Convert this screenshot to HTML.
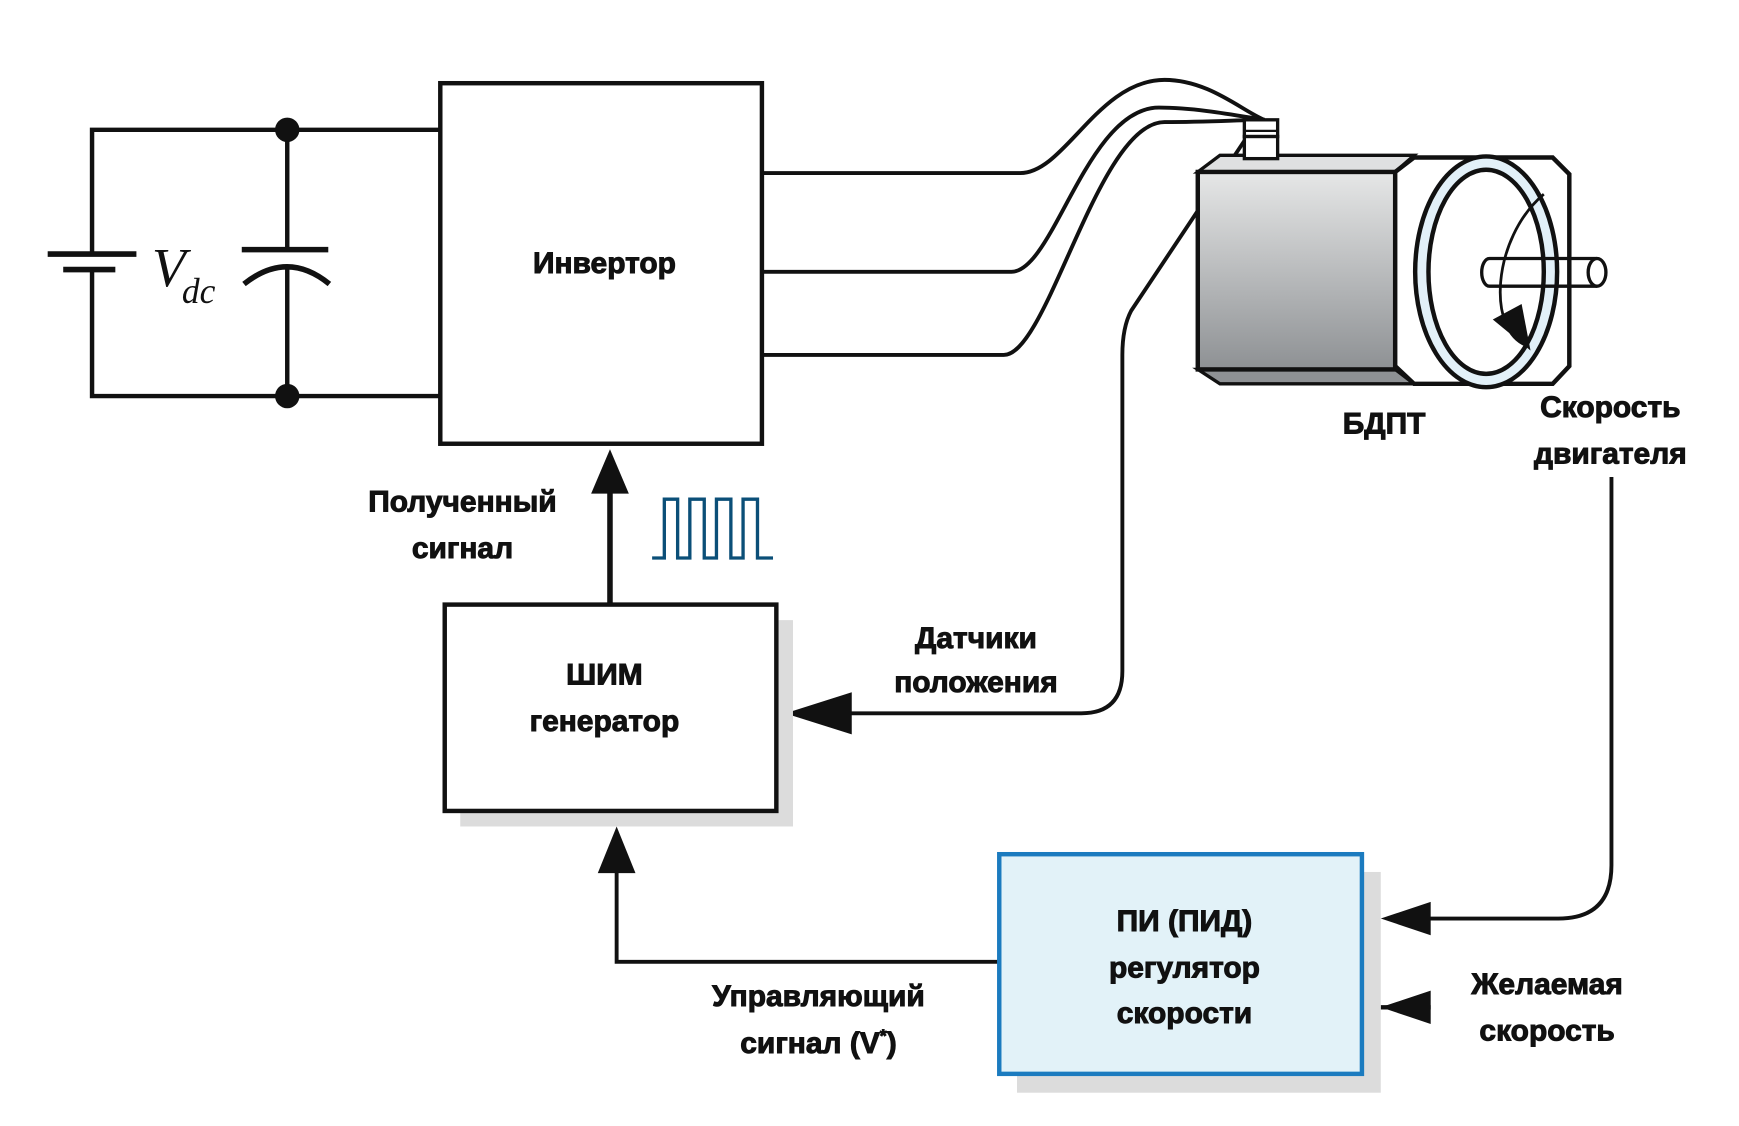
<!DOCTYPE html>
<html><head><meta charset="utf-8"><style>
html,body{margin:0;padding:0;background:#fff;}
svg{display:block;}
text{font-family:"Liberation Sans","DejaVu Sans",sans-serif;font-weight:bold;fill:#111;stroke:#111;stroke-width:0.9;}
</style></head><body>
<svg width="1739" height="1126" viewBox="0 0 1568 1015" preserveAspectRatio="none" xmlns="http://www.w3.org/2000/svg">
<defs>
<linearGradient id="g" x1="0" y1="0" x2="0" y2="1">
<stop offset="0" stop-color="#e6e7e7"/><stop offset="1" stop-color="#8e9194"/>
</linearGradient>
</defs>
<g fill="none" stroke="#111" stroke-width="4">
<polyline points="397,117 83,117 83,228"/>
<polyline points="83,242 83,357 397,357"/>
<line x1="43" y1="229" x2="123" y2="229" stroke-width="5"/>
<line x1="57" y1="243" x2="104" y2="243" stroke-width="5"/>
<line x1="259" y1="117" x2="259" y2="224"/>
<line x1="218" y1="225" x2="296" y2="225" stroke-width="5"/>
<path d="M220,256 Q259,225 297,256" stroke-width="5"/>
<line x1="259" y1="239" x2="259" y2="357"/>
<rect x="397" y="75" width="290" height="325"/>
<path d="M687,156 L920,156 C960,156 990,72 1050,72 C1090,72 1120,100 1140,108" stroke-width="3.5"/>
<path d="M687,245 L912,245 C950,245 980,97 1045,97 C1080,97 1120,105 1140,108" stroke-width="3.5"/>
<path d="M687,320 L905,320 C945,320 990,110 1050,110 C1090,110 1120,108 1140,108" stroke-width="3.5"/>
<path d="M1130,115 L1020,280 Q1012,295 1012,320 L1012,605 Q1012,643 975,643 L765,643" stroke-width="3.5"/>
<path d="M1453,430 L1453,780 Q1453,828 1405,828 L1285,828" stroke-width="3.5"/>
<line x1="1245" y1="908" x2="1290" y2="908" stroke-width="4"/>
<polyline points="901,867 556,867 556,785" stroke-width="3.5"/>
<line x1="550" y1="545" x2="550" y2="440" stroke-width="5"/>
</g>
<circle cx="259" cy="117" r="11" fill="#111"/>
<circle cx="259" cy="357" r="11" fill="#111"/>
<text x="137" y="258" style="font-family:'Liberation Serif',serif;font-weight:normal;font-style:italic;stroke:none" font-size="50" fill="#222">V</text>
<text x="164" y="273" style="font-family:'Liberation Serif',serif;font-weight:normal;font-style:italic;stroke:none" font-size="32" fill="#222">dc</text>
<text x="545" y="246" font-size="27" text-anchor="middle">Инвертор</text>
<polygon points="550,405 533,445 567,445" fill="#111"/>
<polygon points="708,643 768,624 768,662" fill="#111"/>
<polygon points="556,745 539,787 573,787" fill="#111"/>
<polygon points="1245,828 1290,813 1290,843" fill="#111"/>
<polygon points="1245,908 1290,893 1290,923" fill="#111"/>
<polyline points="588,503 599,503 599,450 611,450 611,503 622,503 622,450 635,450 635,503 646,503 646,450 659,450 659,503 670,503 670,450 683,450 683,503 697,503" fill="none" stroke="#0b4f78" stroke-width="3"/>
<rect x="415" y="559" width="300" height="186" fill="#dcdcdc"/>
<rect x="401" y="545" width="299" height="186" fill="#fff" stroke="#111" stroke-width="4"/>
<text x="545" y="617" font-size="27" text-anchor="middle">ШИМ</text>
<text x="545" y="659" font-size="27" text-anchor="middle">генератор</text>
<rect x="917" y="786" width="328" height="199" fill="#dcdcdc"/>
<rect x="901" y="770" width="327" height="198" fill="#e2f2f8" stroke="#1b7bbf" stroke-width="4"/>
<text x="1068" y="839" font-size="27" text-anchor="middle">ПИ (ПИД)</text>
<text x="1068" y="881" font-size="27" text-anchor="middle">регулятор</text>
<text x="1068" y="922" font-size="27" text-anchor="middle">скорости</text>
<text x="417" y="461" font-size="27" text-anchor="middle">Полученный</text>
<text x="417" y="503" font-size="27" text-anchor="middle">сигнал</text>
<text x="880" y="584" font-size="27" text-anchor="middle">Датчики</text>
<text x="880" y="624" font-size="27" text-anchor="middle">положения</text>
<text x="738" y="907" font-size="27" text-anchor="middle">Управляющий</text>
<text x="738" y="949" font-size="27" text-anchor="middle">сигнал (V<tspan font-size="16" dy="-10">*</tspan><tspan dy="10">)</tspan></text>
<text x="1395" y="896" font-size="27" text-anchor="middle">Желаемая</text>
<text x="1395" y="938" font-size="27" text-anchor="middle">скорость</text>
<text x="1248" y="391" font-size="27" text-anchor="middle">БДПТ</text>
<text x="1452" y="376" font-size="27" text-anchor="middle">Скорость</text>
<text x="1452" y="418" font-size="27" text-anchor="middle">двигателя</text>
<g stroke="#111" stroke-width="4">
<polygon points="1080,155 1100,140 1275,140 1258,155" fill="#dfe0e1" stroke-width="3"/>
<polygon points="1080,333 1100,346 1275,346 1258,333" fill="#8e9194" stroke-width="3"/>
<rect x="1080" y="155" width="178" height="178" fill="url(#g)"/>
<polygon points="1258,155 1275,142 1400,142 1415,157 1415,330 1400,346 1275,346 1258,330" fill="#fff"/>
<ellipse cx="1340" cy="245" rx="64" ry="104" fill="#e2f0f8"/>
<ellipse cx="1340" cy="245" rx="52" ry="92" fill="#fff"/>
<rect x="1122" y="123" width="30" height="20" fill="#fff" stroke-width="3"/>
<rect x="1122" y="108" width="30" height="15" fill="#fff" stroke-width="3"/>
<line x1="1122" y1="118" x2="1152" y2="118" stroke-width="2"/>
<path d="M1343,233 L1440,233 M1343,258 L1440,258 M1343,233 A7,12.5 0 0 0 1343,258" fill="#fff" stroke-width="3"/>
<ellipse cx="1440" cy="245.5" rx="8" ry="12.5" fill="#fff" stroke-width="3"/>
<path d="M1392,175 C1345,215 1340,300 1378,312" fill="none" stroke-width="2.5"/>
</g>
<polygon points="1346,288 1372,274 1380,316" fill="#111"/>
</svg>
</body></html>
